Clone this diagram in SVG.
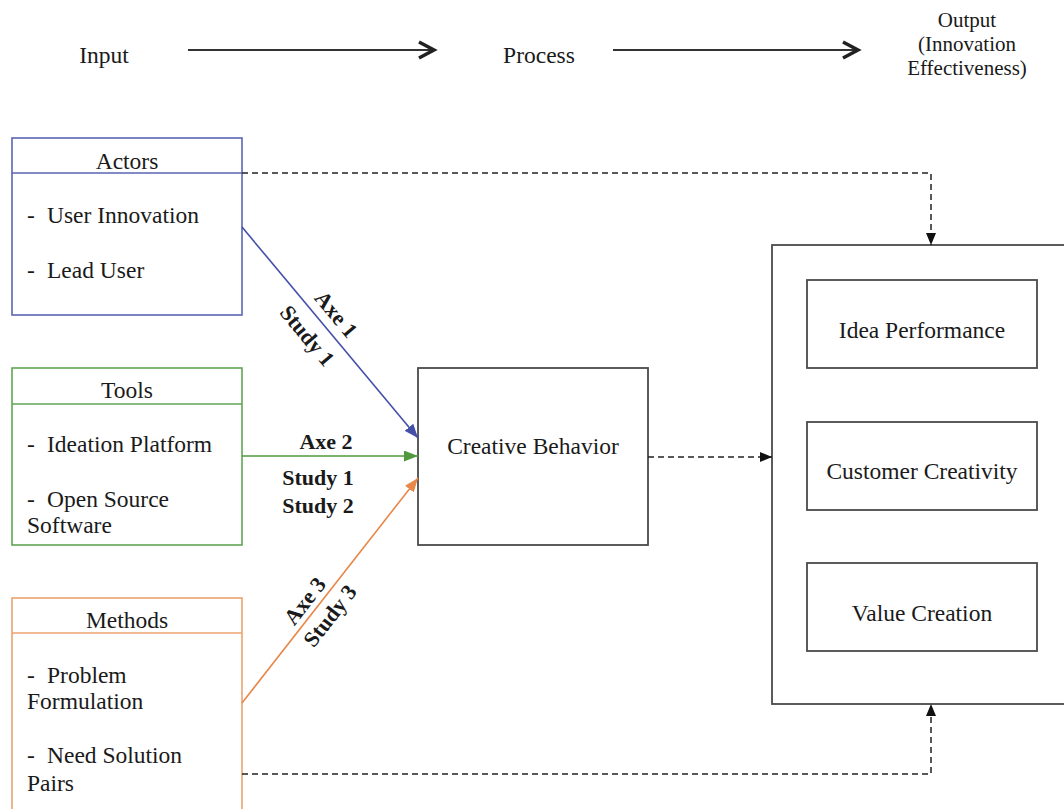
<svg xmlns="http://www.w3.org/2000/svg" width="1064" height="809" viewBox="0 0 1064 809" font-family="'Liberation Serif', 'Times New Roman', 'DejaVu Serif', serif">
<style>
  .t { font-family: 'Liberation Serif', 'Times New Roman', 'DejaVu Serif', serif; font-size: 23.5px; fill: #1a1a1a; }
  .o { font-size: 21px; }
  .c { text-anchor: middle; }
  .b { font-family: 'Liberation Serif', 'Times New Roman', 'DejaVu Serif', serif; font-size: 22px; font-weight: bold; fill: #1a1a1a; text-anchor: middle; }
  .box { fill: #ffffff; stroke: #4a4a4a; stroke-width: 1.8; }
  .dash { fill: none; stroke: #222; stroke-width: 1.5; stroke-dasharray: 6 4; }
  .flow { fill: none; stroke: #333; stroke-width: 2.2; }
  .chev { fill: none; stroke: #222; stroke-width: 3.5; stroke-linejoin: miter; }
</style>
<defs>
  <marker id="ah-black" markerUnits="userSpaceOnUse" markerWidth="12" markerHeight="10" refX="12" refY="5" orient="auto">
    <path d="M0,0 L12,5 L0,10 z" fill="#111"/>
  </marker>
  <marker id="ah-blue" markerUnits="userSpaceOnUse" markerWidth="14" markerHeight="11" refX="14" refY="5.5" orient="auto">
    <path d="M0,0 L14,5.5 L0,11 z" fill="#4450a8"/>
  </marker>
  <marker id="ah-green" markerUnits="userSpaceOnUse" markerWidth="14" markerHeight="11" refX="14" refY="5.5" orient="auto">
    <path d="M0,0 L14,5.5 L0,11 z" fill="#4f9a3e"/>
  </marker>
  <marker id="ah-orange" markerUnits="userSpaceOnUse" markerWidth="14" markerHeight="11" refX="14" refY="5.5" orient="auto">
    <path d="M0,0 L14,5.5 L0,11 z" fill="#e8874a"/>
  </marker>
</defs>
<rect x="0" y="0" width="1064" height="809" fill="#ffffff"/>

<!-- Top flow row -->
<g id="flow-header">
  <text class="t c" x="104" y="63">Input</text>
  <line class="flow" x1="188" y1="50" x2="433" y2="50"/>
  <polyline class="chev" points="419,42 434,50 419,58"/>
  <text class="t c" x="539" y="63">Process</text>
  <line class="flow" x1="613" y1="50" x2="857" y2="50"/>
  <polyline class="chev" points="843,42 858,50 843,58"/>
  <text class="t o c" x="967" y="27">Output</text>
  <text class="t o c" x="967" y="51">(Innovation</text>
  <text class="t o c" x="967" y="75">Effectiveness)</text>
</g>

<!-- Input nodes -->
<g id="actors">
  <rect x="12" y="138" width="230" height="177" fill="#fff" stroke="#5a64b4" stroke-width="1.6"/>
  <line x1="12" y1="173" x2="242" y2="173" stroke="#5a64b4" stroke-width="1.6"/>
  <text class="t c" x="127" y="169">Actors</text>
  <text class="t" x="27" y="223">-</text><text class="t" x="47" y="223">User Innovation</text>
  <text class="t" x="27" y="278">-</text><text class="t" x="47" y="278">Lead User</text>
</g>

<g id="tools">
  <rect x="12" y="368" width="230" height="177" fill="#fff" stroke="#62a554" stroke-width="1.6"/>
  <line x1="12" y1="404" x2="242" y2="404" stroke="#62a554" stroke-width="1.6"/>
  <text class="t c" x="127" y="398">Tools</text>
  <text class="t" x="27" y="452">-</text><text class="t" x="47" y="452">Ideation Platform</text>
  <text class="t" x="27" y="507">-</text><text class="t" x="47" y="507">Open Source</text>
  <text class="t" x="27" y="533">Software</text>
</g>

<g id="methods">
  <rect x="12" y="598" width="230" height="216" fill="#fff" stroke="#eba36e" stroke-width="1.6"/>
  <line x1="12" y1="633" x2="242" y2="633" stroke="#eba36e" stroke-width="1.6"/>
  <text class="t c" x="127" y="628">Methods</text>
  <text class="t" x="27" y="683">-</text><text class="t" x="47" y="683">Problem</text>
  <text class="t" x="27" y="709">Formulation</text>
  <text class="t" x="27" y="763">-</text><text class="t" x="47" y="763">Need Solution</text>
  <text class="t" x="27" y="791">Pairs</text>
</g>

<!-- Process node -->
<g id="creative-behavior">
  <rect class="box" x="418" y="368" width="230" height="177"/>
  <text class="t c" x="533" y="454">Creative Behavior</text>
</g>

<!-- Output nodes -->
<g id="innovation-effectiveness">
  <rect class="box" x="772" y="245" width="310" height="459"/>
</g>
<g id="idea-performance">
  <rect class="box" x="807" y="280" width="230" height="88"/>
  <text class="t c" x="922" y="338">Idea Performance</text>
</g>
<g id="customer-creativity">
  <rect class="box" x="807" y="422" width="230" height="88"/>
  <text class="t c" x="922" y="479">Customer Creativity</text>
</g>
<g id="value-creation">
  <rect class="box" x="807" y="563" width="230" height="88"/>
  <text class="t c" x="922" y="621">Value Creation</text>
</g>

<!-- Connectors -->
<g id="connectors">
  <line x1="242" y1="227" x2="418" y2="438" stroke="#4450a8" stroke-width="1.6" marker-end="url(#ah-blue)"/>
  <line x1="242" y1="456" x2="418" y2="456" stroke="#4f9a3e" stroke-width="1.6" marker-end="url(#ah-green)"/>
  <line x1="242" y1="703" x2="418" y2="478" stroke="#e8874a" stroke-width="1.6" marker-end="url(#ah-orange)"/>
  <polyline class="dash" points="242,173 931,173 931,245" marker-end="url(#ah-black)"/>
  <line class="dash" x1="648" y1="457" x2="772" y2="457" marker-end="url(#ah-black)"/>
  <polyline class="dash" points="242,774 931,774 931,704" marker-end="url(#ah-black)"/>

  <g transform="translate(323,324) rotate(50.2)">
    <text class="b" x="1" y="-9">Axe 1</text>
    <text class="b" x="-1" y="27">Study 1</text>
  </g>
  <text class="b" x="326" y="449">Axe 2</text>
  <text class="b" x="318" y="485">Study 1</text>
  <text class="b" x="318" y="513">Study 2</text>
  <g transform="translate(316.5,607.7) rotate(-52)">
    <text class="b" x="-2" y="-6">Axe 3</text>
    <text class="b" x="2" y="23">Study 3</text>
  </g>
</g>
</svg>
